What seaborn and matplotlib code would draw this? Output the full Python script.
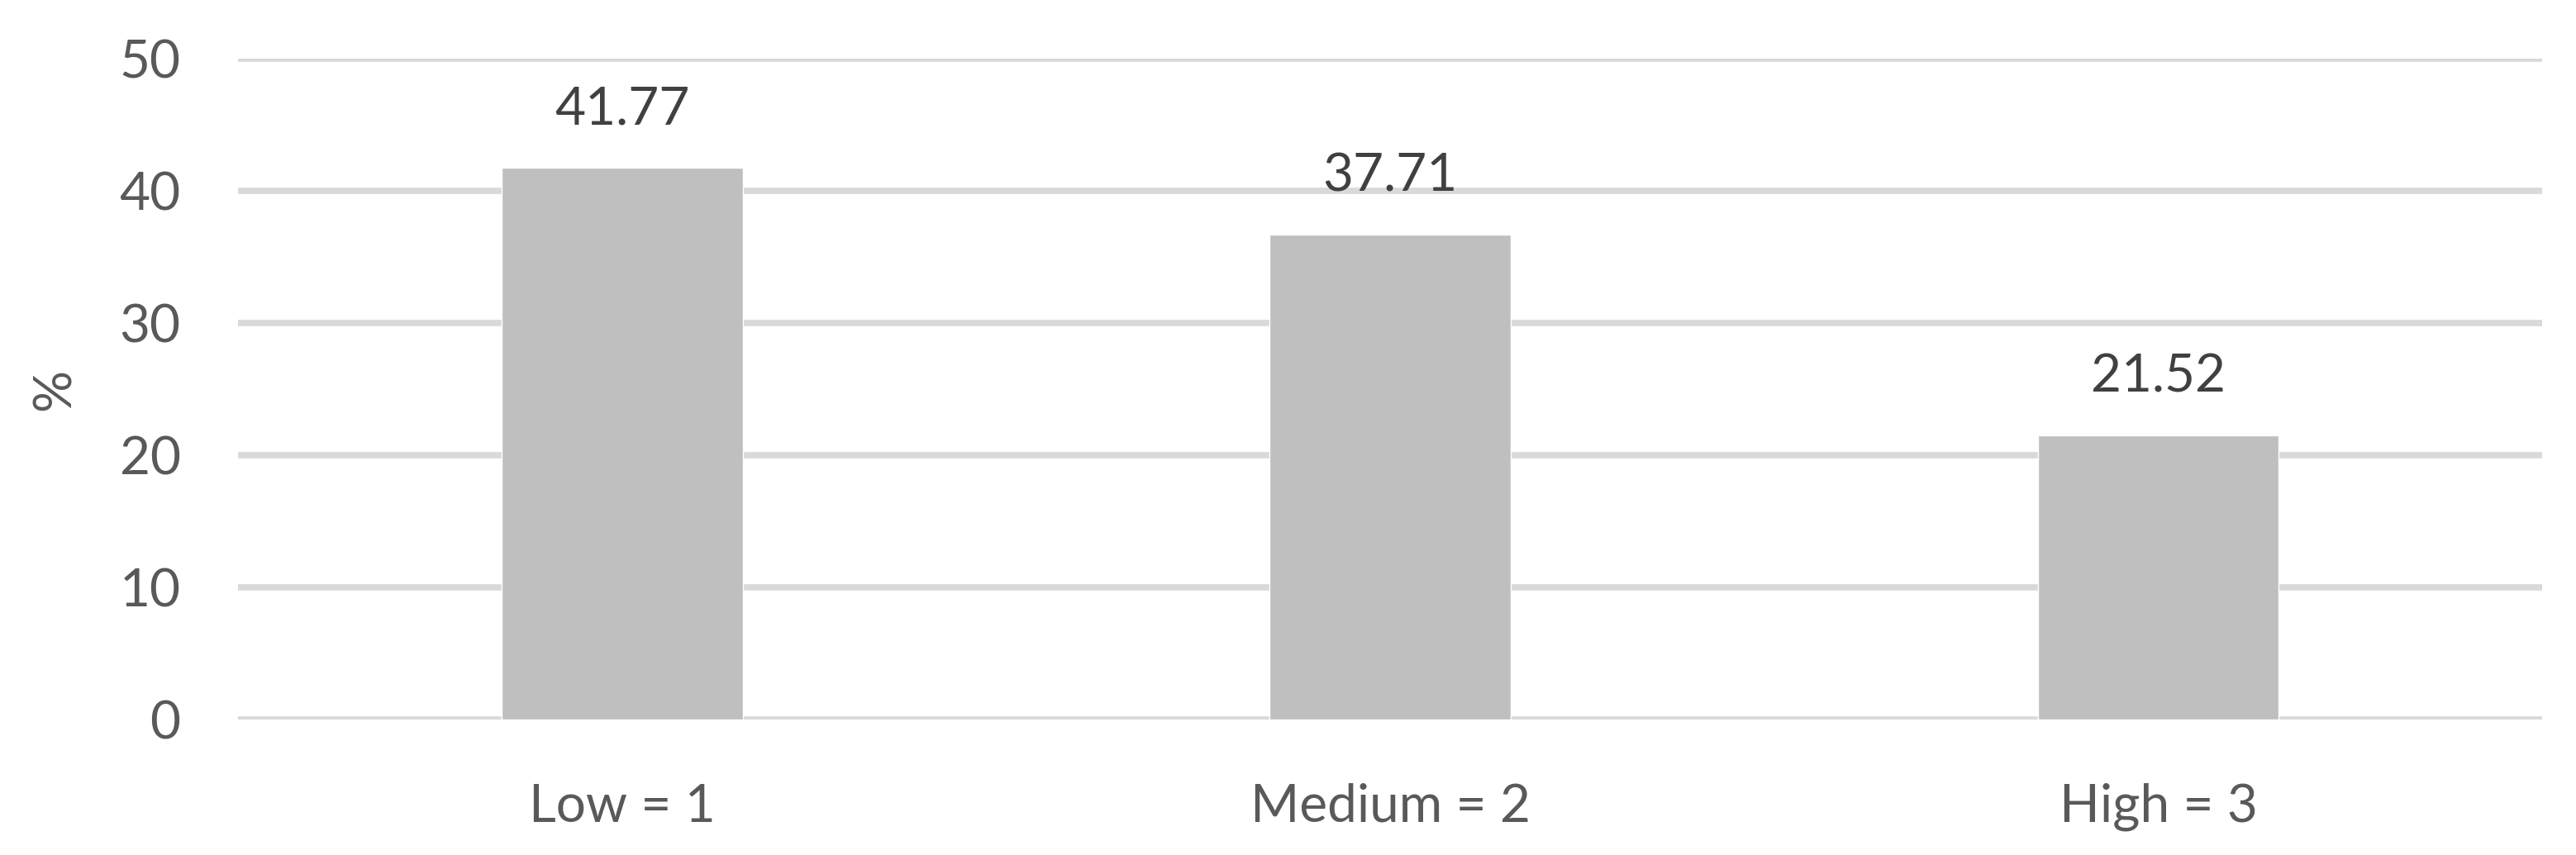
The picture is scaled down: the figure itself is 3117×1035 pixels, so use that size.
import matplotlib
matplotlib.use("Agg")
import matplotlib.pyplot as plt
import seaborn as sns

# values (bar heights), and the printed labels
categories = ["Low = 1", "Medium = 2", "High = 3"]
values = [41.77, 36.71, 21.52]
value_labels = ["41.77", "37.71", "21.52"]
y_ticks = [0, 10, 20, 30, 40, 50]

sns.set_theme(style="white")
plt.rcParams["font.family"] = ["Lato", "DejaVu Sans"]

fig = plt.figure(figsize=(31.17, 10.35), dpi=100)
ax = fig.add_axes([0.0924, 0.158, 0.8945, 0.773])

sns.barplot(x=categories, y=values, color="#bfbfbf", saturation=1,
            width=0.314, ax=ax, zorder=3)

# data labels above the bars
ax.bar_label(ax.containers[0], labels=value_labels, padding=30,
             fontsize=46, color="#404040")

ax.set_ylim(0, 50)
ax.set_yticks(y_ticks)
ax.set_xlim(-0.5, len(categories) - 0.5)
ax.yaxis.grid(True, color="#d9d9d9", linewidth=5.5, zorder=0)
ax.set_axisbelow(True)
sns.despine(ax=ax, left=True, bottom=True)

ax.tick_params(axis="both", length=0, labelsize=46, labelcolor="#595959")
ax.tick_params(axis="y", pad=50)
ax.tick_params(axis="x", pad=55)
ax.set_ylabel("%", fontsize=46, color="#595959", labelpad=35)
ax.set_xlabel("")

fig.savefig("out.png", dpi=100, facecolor="white")
